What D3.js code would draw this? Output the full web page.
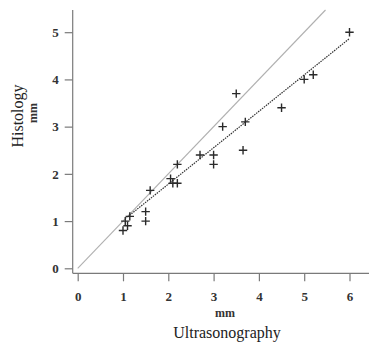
<!DOCTYPE html>
<meta charset="utf-8">
<script src="https://d3js.org/d3.v7.min.js"></script>
<style>
  body { margin: 0; background: #fff; }
  text { font-family: "Liberation Serif", "DejaVu Serif", serif; }
</style>
<div id="my_dataviz"></div>
<script>
var ultrasound = [1.0, 1.05, 1.1, 1.15, 1.5, 1.5, 1.6, 2.05, 2.1, 2.2, 2.2, 2.7, 3.0, 3.0, 3.2, 3.5, 3.7, 3.65, 4.5, 5.0, 5.2, 6.0];
var histology  = [0.8, 1.0, 0.9, 1.1, 1.2, 1.0, 1.65, 1.9, 1.8, 1.8, 2.2, 2.4, 2.4, 2.2, 3.0, 3.7, 3.1, 2.5, 3.4, 4.0, 4.1, 5.0];
var xTicks = [0, 1, 2, 3, 4, 5, 6];
var yTicks = [0, 1, 2, 3, 4, 5];
// fitted line: histology = slope * ultrasound + intercept
var fit = {slope: 0.771, intercept: 0.24, from: 1.1, to: 6};

var width = 371, height = 342;
var svg = d3.select("#my_dataviz").append("svg")
    .attr("width", width).attr("height", height);

var x = d3.scaleLinear().domain([0, 6]).range([77.7, 349.5]);
var y = d3.scaleLinear().domain([0, 5.47]).range([268.3, 10]);

var axisCol = "#7a7a7a";

// axis spines (offset, L shape)
svg.append("line").attr("x1", 72.7).attr("x2", 72.7).attr("y1", 10).attr("y2", 273.3)
  .attr("stroke", axisCol).attr("stroke-width", 1.2);
svg.append("line").attr("x1", 72.7).attr("x2", 369).attr("y1", 273.3).attr("y2", 273.3)
  .attr("stroke", axisCol).attr("stroke-width", 1.2);

// x axis ticks
var gx = svg.append("g").attr("transform", "translate(0,273.3)")
  .call(d3.axisBottom(x).tickValues(xTicks).tickSize(8).tickPadding(10).tickFormat(d3.format("d")));
gx.select(".domain").remove();
gx.selectAll("line").attr("stroke", axisCol).attr("stroke-width", 1.2);
gx.selectAll("text").attr("fill", "#333").style("font-size", "13px").style("font-weight", "bold")
  .style("font-family", "'Liberation Serif', serif");

// y axis ticks
var gy = svg.append("g").attr("transform", "translate(72.7,0)")
  .call(d3.axisLeft(y).tickValues(yTicks).tickSize(8).tickPadding(6).tickFormat(d3.format("d")));
gy.select(".domain").remove();
gy.selectAll("line").attr("stroke", axisCol).attr("stroke-width", 1.2);
gy.selectAll("text").attr("fill", "#333").style("font-size", "13px").style("font-weight", "bold")
  .style("font-family", "'Liberation Serif', serif");

// line of identity, up to the top of the plot
var yMax = y.domain()[1];
svg.append("line")
  .attr("x1", x(0)).attr("y1", y(0))
  .attr("x2", x(yMax)).attr("y2", y(yMax))
  .attr("stroke", "#b0b0b0").attr("stroke-width", 1.1);

// regression line (dotted)
svg.append("line")
  .attr("x1", x(fit.from)).attr("y1", y(fit.slope * fit.from + fit.intercept))
  .attr("x2", x(fit.to)).attr("y2", y(fit.slope * fit.to + fit.intercept))
  .attr("stroke", "#333").attr("stroke-width", 1.2).attr("stroke-dasharray", "1.5,1");

// data points as plus signs
var pts = ultrasound.map(function(d, i) { return {u: d, h: histology[i]}; });
var s = 4.2;
svg.append("g").selectAll("path").data(pts).enter().append("path")
  .attr("d", function(d) {
    var cx = x(d.u), cy = y(d.h);
    return "M" + (cx - s) + "," + cy + "H" + (cx + s) + "M" + cx + "," + (cy - s) + "V" + (cy + s);
  })
  .attr("stroke", "#2a2a2a").attr("stroke-width", 1.4).attr("fill", "none");

// axis titles
svg.append("text").attr("x", 225).attr("y", 317).attr("text-anchor", "middle")
  .style("font-size", "12px").style("font-weight", "bold").attr("fill", "#333").text("mm");
svg.append("text").attr("x", 227).attr("y", 338).attr("text-anchor", "middle")
  .style("font-size", "16px").attr("fill", "#222").text("Ultrasonography");
svg.append("text").attr("transform", "translate(23,116) rotate(-90)").attr("text-anchor", "middle")
  .style("font-size", "16px").attr("fill", "#222").text("Histology");
svg.append("text").attr("transform", "translate(37,113) rotate(-90)").attr("text-anchor", "middle")
  .style("font-size", "12px").style("font-weight", "bold").attr("fill", "#333").text("mm");
</script>
